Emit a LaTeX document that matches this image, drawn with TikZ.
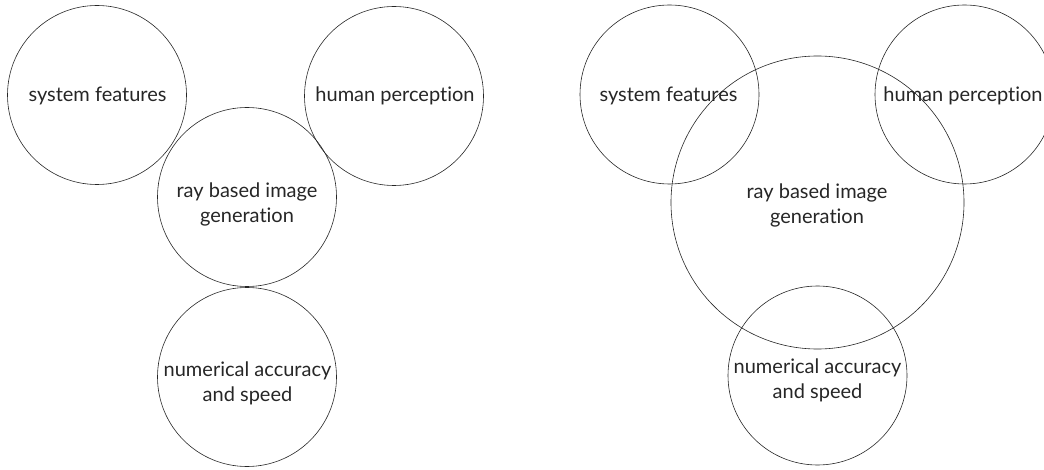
\documentclass[tikz,border=0pt]{standalone}
\usepackage{fontspec}
\setmainfont{Lato}[Ligatures={NoCommon,NoContextual}]
\begin{document}
\begin{tikzpicture}[x=1pt,y=-1pt,
  ring/.style={draw=black!85,line width=0.6pt,circle,inner sep=0pt,minimum size=179pt},
  bigring/.style={ring,minimum size=293pt},
  lbl/.style={anchor=base,inner sep=0pt,align=center,font=\fontsize{20}{25}\selectfont,text=black!85}]
\clip (0,0) rectangle (1044,470);
% left diagram
\node[ring] (sf1) at (97,95) {};
\node[ring] (hp1) at (394,96) {};
\node[ring] (ray1) at (247,197) {};
\node[ring] (num1) at (247,377) {};
\node[lbl] (sf1t) at (97.5,102) {system features};
\node[lbl] (hp1t) at (395,102) {human perception};
\node[lbl] (ray1t) at (247,223) {ray based image\\generation};
\node[lbl] (num1t) at (247.5,401.7) {numerical accuracy\\and speed};
% right diagram
\node[ring] (sf2) at (669.5,94.5) {};
\node[ring] (hp2) at (964.5,94.5) {};
\node[bigring] (ray2) at (817.5,202.5) {};
\node[ring] (num2) at (817.5,375.5) {};
\node[lbl] (sf2t) at (668.5,101.7) {system features};
\node[lbl] (hp2t) at (963,101.7) {human perception};
\node[lbl] (ray2t) at (817,223.3) {ray based image\\generation};
\node[lbl] (num2t) at (817.5,398.3) {numerical accuracy\\and speed};
\end{tikzpicture}
\end{document}
